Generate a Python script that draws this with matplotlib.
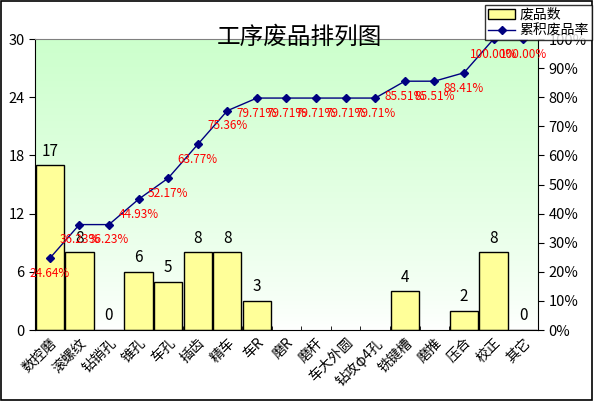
import numpy as np
import matplotlib
matplotlib.use('Agg')
import matplotlib.pyplot as plt
from matplotlib.lines import Line2D
from matplotlib.patches import Patch, Rectangle

plt.rcParams['font.family'] = ['Noto Sans CJK SC', 'DejaVu Sans']

# 数据
cats = ['数控磨', '滚螺纹', '钻销孔', '锥孔', '车孔', '插齿', '精车', '车R', '磨R',
        '磨杆', '车大外圆', '钻攻φ4孔', '铣键槽', '磨推', '压合', '校正', '其它']
counts = [17, 8, 0, 6, 5, 8, 8, 3, None, None, None, None, 4, None, 2, 8, 0]
left_ticks = [0, 6, 12, 18, 24, 30]
right_ticks = [0, 10, 20, 30, 40, 50, 60, 70, 80, 90, 100]

vals = np.array([0 if c is None else c for c in counts], dtype=float)
cum_rate = np.cumsum(vals) / vals.sum() * 100

fig = plt.figure(figsize=(5.99, 4.01), dpi=100)
ax = fig.add_axes([0.0584, 0.177, 0.8397, 0.7257])
x = np.arange(len(cats))

# 背景渐变
grad = np.linspace(0, 1, 256).reshape(-1, 1) ** 0.8
top_c = np.array([0.80, 1.0, 0.80])
bot_c = np.array([1.0, 1.0, 1.0])
img = bot_c + (top_c - bot_c) * grad
ax.imshow(img[:, None, :].repeat(2, axis=1), extent=[-0.5, len(cats) - 0.5, 0, 30],
          origin='lower', aspect='auto', zorder=0)

bar_h = [np.nan if c is None else c for c in counts]
ax.bar(x, bar_h, width=0.96, color='#ffff99', edgecolor='black', lw=1, zorder=2)
for i, c in enumerate(counts):
    if c is None:
        continue
    ax.annotate(str(c), (i, c), xytext=(0, 4), textcoords='offset points',
                ha='center', va='bottom', fontsize=11, zorder=5)

ax.set_xlim(-0.5, len(cats) - 0.5)
ax.set_ylim(0, 30)
ax.set_yticks(left_ticks)
ax.tick_params(axis='y', labelsize=10.5, direction='out', length=4)
ax.set_xticks(x)
ax.set_xticklabels(cats, rotation=45, ha='right', rotation_mode='anchor', fontsize=10)
ax.tick_params(axis='x', length=0, pad=4)
ax.set_xticks(np.arange(-0.5, len(cats), 1), minor=True)
ax.tick_params(axis='x', which='minor', direction='in', length=3)
ax.spines['top'].set_color('gray')
ax.spines['right'].set_visible(False)

ax2 = ax.twinx()
ax2.plot(x, cum_rate, color='#000080', lw=1, marker='D', ms=4, zorder=4)
for i, r in enumerate(cum_rate):
    ax2.annotate('%.2f%%' % r, (i, r), xytext=(0, -11), textcoords='offset points',
                 ha='center', va='center', fontsize=8.5, color='red', zorder=6)
ax2.set_ylim(0, 100)
ax2.set_yticks(right_ticks)
ax2.set_yticklabels(['%d%%' % t for t in right_ticks])
ax2.tick_params(axis='y', labelsize=10.5, direction='out', length=4)
ax2.spines['top'].set_visible(False)
ax2.spines['left'].set_visible(False)
ax2.spines['bottom'].set_visible(False)

fig.text(0.5, 0.908, '工序废品排列图', ha='center', va='center', fontsize=17)

handles = [Patch(facecolor='#ffff99', edgecolor='black'),
           Line2D([], [], color='#000080', lw=1, marker='D', ms=4)]
leg = fig.legend(handles, ['废品数', '累积废品率'], loc='upper right',
                 bbox_to_anchor=(0.988, 0.988), fontsize=10, frameon=True, fancybox=False,
                 borderpad=0.2, labelspacing=0.15, handlelength=2.0, handletextpad=0.3,
                 borderaxespad=0)
leg.get_frame().set_edgecolor('black')
leg.get_frame().set_linewidth(1)

fig.patches.append(Rectangle((0.001, 0.003), 0.988, 0.994, transform=fig.transFigure,
                             fill=False, edgecolor='black', lw=1.2))

fig.savefig('out.png', dpi=100)
